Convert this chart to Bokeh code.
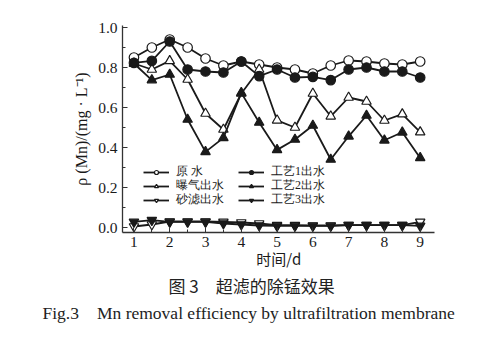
from bokeh.plotting import figure
from bokeh.models import Range1d, Legend, LegendItem, Title, FixedTicker, PrintfTickFormatter
from bokeh.embed import file_html
from bokeh.resources import INLINE

days = [1, 1.5, 2, 2.5, 3, 3.5, 4, 4.5, 5, 5.5, 6, 6.5, 7, 7.5, 8, 8.5, 9]
raw_water = [0.85, 0.90, 0.94, 0.90, 0.845, 0.81, 0.83, 0.815, 0.80, 0.79, 0.77, 0.81, 0.835, 0.83, 0.82, 0.815, 0.83]
process1 = [0.823, 0.833, 0.93, 0.79, 0.78, 0.775, 0.83, 0.757, 0.79, 0.75, 0.753, 0.737, 0.79, 0.80, 0.78, 0.78, 0.75]
aeration = [0.82, 0.79, 0.833, 0.74, 0.57, 0.49, 0.67, 0.79, 0.536, 0.50, 0.67, 0.556, 0.65, 0.63, 0.535, 0.567, 0.477]
process2 = [0.82, 0.737, 0.765, 0.54, 0.378, 0.448, 0.673, 0.525, 0.388, 0.44, 0.51, 0.34, 0.456, 0.56, 0.436, 0.476, 0.348]
sand_filter = [0.005, 0.015, 0.03, 0.03, 0.03, 0.028, 0.025, 0.02, 0.012, 0.012, 0.01, 0.01, 0.012, 0.012, 0.012, 0.012, 0.028]
process3 = [0.028, 0.037, 0.028, 0.028, 0.028, 0.02, 0.015, 0.01, 0.008, 0.008, 0.008, 0.008, 0.012, 0.012, 0.012, 0.012, 0.008]

x_ticks = [1, 2, 3, 4, 5, 6, 7, 8, 9]
y_ticks = [0.0, 0.2, 0.4, 0.6, 0.8, 1.0]

names = ["原 水", "曝气出水", "砂滤出水", "工艺1出水", "工艺2出水", "工艺3出水"]

SERIF = "Liberation Serif"
CJK = "Noto Sans CJK SC"
INK = "#1a1a1a"

p = figure(width=500, height=341, output_backend="svg", toolbar_location=None,
           x_range=Range1d(0.68, 9.4), y_range=Range1d(-0.025, 1.01),
           min_border_left=122, min_border_right=66, min_border_top=25, min_border_bottom=109)
p.outline_line_color = None
p.grid.grid_line_color = None
p.background_fill_color = "white"
p.border_fill_color = "white"

series = [
    (raw_water, "circle", "white"),
    (aeration, "triangle", "white"),
    (sand_filter, "inverted_triangle", "white"),
    (process1, "circle", INK),
    (process2, "triangle", INK),
    (process3, "inverted_triangle", INK),
]
# legend slot for each series: (column offset, bottom offset) in screen px from frame corner
slots = [(21, 52), (21, 38), (21, 24), (116, 52), (116, 38), (116, 24)]
for (vals, marker, fill), name, loc in zip(series, names, slots):
    ln = p.line(days, vals, line_color=INK, line_width=1.8)
    sc = p.scatter(days, vals, marker=marker, size=9.5, fill_color=fill,
                   line_color=INK, line_width=1.2)
    lg = Legend(items=[LegendItem(label=name, renderers=[ln, sc])], location=loc,
                background_fill_alpha=0, border_line_color=None,
                label_text_font=SERIF, label_text_font_size="12px",
                label_text_color=INK, glyph_width=26, glyph_height=10,
                label_height=10, label_standoff=7, spacing=0, padding=0, margin=0)
    p.add_layout(lg, "center")

p.axis.axis_line_color = "#333333"
p.axis.axis_line_width = 1.3
p.axis.major_tick_line_color = "#333333"
p.axis.minor_tick_line_color = "#333333"
p.axis.major_tick_in = 5
p.axis.major_tick_out = 0
p.axis.minor_tick_in = 3
p.axis.minor_tick_out = 0
p.axis.major_label_text_font = SERIF
p.axis.major_label_text_font_size = "15.5px"
p.axis.major_label_text_color = INK

p.xaxis.ticker = FixedTicker(ticks=x_ticks, minor_ticks=[d + 0.5 for d in x_ticks[:-1]])
p.yaxis.ticker = FixedTicker(ticks=y_ticks, minor_ticks=[0.1, 0.3, 0.5, 0.7, 0.9])
p.yaxis.formatter = PrintfTickFormatter(format="%.1f")
p.xaxis.major_label_standoff = 4
p.yaxis.major_label_standoff = 5

p.xaxis.axis_label = "时间/d"
p.xaxis.axis_label_text_font = CJK
p.xaxis.axis_label_text_font_size = "15px"
p.xaxis.axis_label_text_font_style = "normal"
p.xaxis.axis_label_text_color = INK
p.xaxis.axis_label_standoff = -2

p.yaxis.axis_label = "ρ (Mn)/(mg · L⁻¹)"
p.yaxis.axis_label_text_font = SERIF
p.yaxis.axis_label_text_font_size = "16px"
p.yaxis.axis_label_text_font_style = "normal"
p.yaxis.axis_label_text_color = INK
p.yaxis.axis_label_standoff = 5

t1 = Title(text="图 3　超滤的除锰效果", align="left", offset=46,
           text_font=CJK, text_font_size="17px", text_font_style="normal",
           text_color="#222222", standoff=-2)
t2 = Title(text="Fig.3　Mn removal efficiency by ultrafiltration membrane", align="left",
           offset=-80, text_font=SERIF, text_font_size="17.5px", text_font_style="normal",
           text_color="#222222", standoff=9)
p.add_layout(t1, "below")
p.add_layout(t2, "below")

open("out.html", "w").write(file_html(p, INLINE))
